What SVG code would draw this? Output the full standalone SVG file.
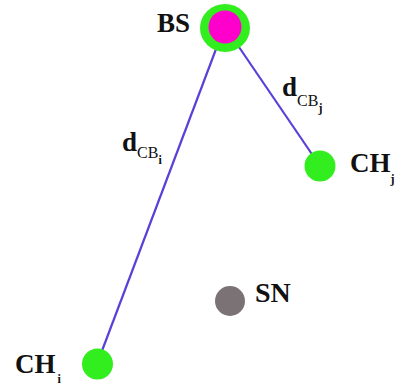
<svg xmlns="http://www.w3.org/2000/svg" width="398" height="387" viewBox="0 0 398 387">
<style>
.lbl{font-family:"Liberation Serif","Times New Roman",serif;font-weight:bold;fill:#111}
.big{font-size:27px}
.sub{font-size:16px;font-weight:normal}
.sub2{font-size:12px}
.ch{fill:#33ee1f}
.edge{stroke:#5a3fd8;stroke-width:2.2;fill:none}
</style>
<rect width="398" height="387" fill="#fff"/>
<g id="connectors">
<line class="edge" x1="224" y1="28" x2="97" y2="364"/>
<line class="edge" x1="226" y1="28" x2="320" y2="166"/>
</g>
<g id="BS">
<ellipse cx="225" cy="28" rx="25" ry="24" class="ch"/>
<circle cx="225" cy="27" r="16.5" fill="#ff00cc"/>
<text class="lbl big" x="157" y="32">BS</text>
</g>
<g id="CHj">
<circle cx="320" cy="166" r="15.5" class="ch"/>
<text class="lbl big" x="350" y="172">CH<tspan class="sub2" dx="0" dy="11">j</tspan></text>
</g>
<g id="CHi">
<circle cx="97.5" cy="364" r="15.5" class="ch"/>
<text class="lbl big" x="15" y="373">CH<tspan class="sub2" dx="2" dy="10">i</tspan></text>
</g>
<g id="SN">
<circle cx="230" cy="301" r="15" fill="#7a7274"/>
<text class="lbl" x="255" y="302" font-size="28">SN</text>
</g>
<g id="labels">
<text class="lbl big" x="282" y="96">d<tspan class="sub" dy="10">CB</tspan><tspan class="sub2" dy="6">j</tspan></text>
<text class="lbl big" x="122" y="151">d<tspan class="sub" dy="7">CB</tspan><tspan class="sub2" dy="6">i</tspan></text>
</g>
</svg>
